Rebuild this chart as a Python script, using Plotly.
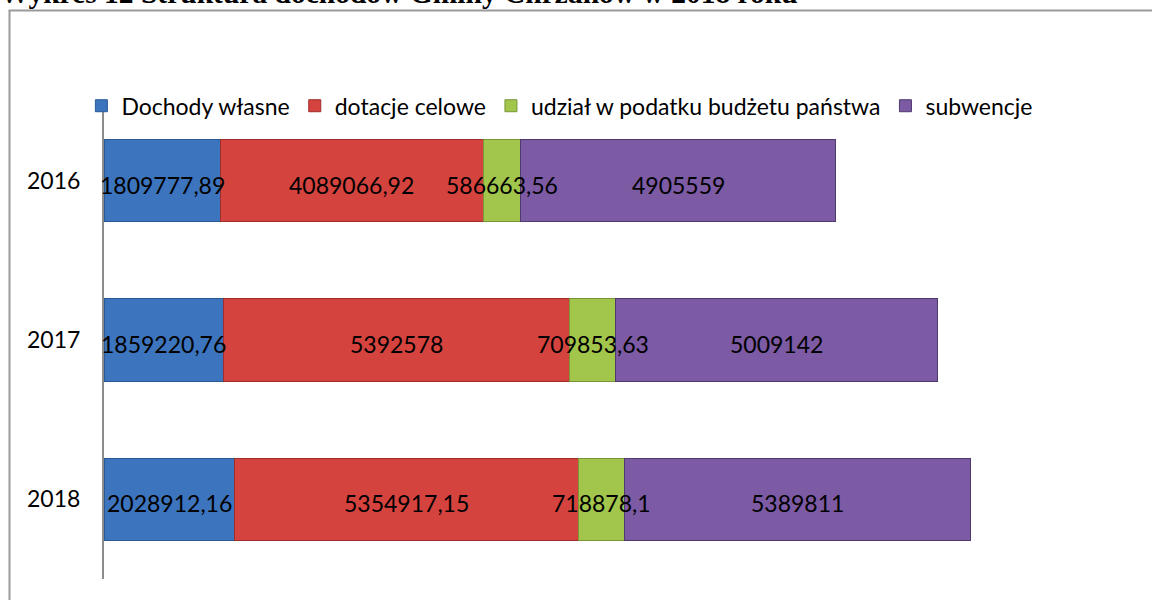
import plotly.graph_objects as go

years = ["2016", "2017", "2018"]
series_names = ["Dochody własne", "dotacje celowe", "udział w podatku budżetu państwa", "subwencje"]
dochody_wlasne = [1809777.89, 1859220.76, 2028912.16]
dotacje_celowe = [4089066.92, 5392578, 5354917.15]
udzial_pit = [586663.56, 709853.63, 718878.1]
subwencje = [4905559, 5009142, 5389811]
colors = ["#3c74bd", "#d5433f", "#a2c54b", "#7c5aa4"]
edge_colors = ["#2a5a96", "#9e2e2b", "#7a9635", "#4f3a6e"]

x_max = 16000000
title_text = "Wykres 12 Struktura dochodów Gminy Chrzanów w 2018 roku"


def fmt(v):
    return str(v).replace(".", ",")


all_series = [dochody_wlasne, dotacje_celowe, udzial_pit, subwencje]

fig = go.Figure()
for name, vals, col, ecol in zip(series_names, all_series, colors, edge_colors):
    fig.add_trace(go.Bar(
        y=years, x=vals, name=name, orientation="h",
        marker=dict(color=col, line=dict(color=ecol, width=1)),
        hoverinfo="skip",
    ))

# data labels drawn on top of all bars (centred in each segment);
# y given as the category index on the category axis
label_annotations = []
base = [0.0] * len(years)
for vals in all_series:
    for idx, (b, v) in enumerate(zip(base, vals)):
        label_annotations.append(dict(
            x=b + v / 2, y=idx, xref="x", yref="y", text=fmt(v), showarrow=False,
            xanchor="center", yanchor="middle", yshift=-4,
            font=dict(family="Lato", size=23, color="black")))
    base = [b + v for b, v in zip(base, vals)]

title_annotation = dict(text="<b>" + title_text + "</b>", xref="paper", yref="paper",
                        x=0, y=1, xanchor="left", yanchor="bottom", xshift=-106, yshift=90,
                        showarrow=False,
                        font=dict(family="Liberation Serif", size=29.5, color="black"))

fig.update_layout(
    width=1152, height=600,
    barmode="stack", bargap=0.485,
    margin=dict(l=104, r=20, t=101, b=21),
    paper_bgcolor="white", plot_bgcolor="white",
    font=dict(family="Lato", color="black"),
    showlegend=True,
    legend=dict(orientation="h", x=-0.022, xanchor="left", y=1.035, yanchor="top",
                font=dict(family="Lato", size=23, color="black"),
                bgcolor="rgba(0,0,0,0)", itemwidth=30, traceorder="normal"),
    xaxis=dict(range=[0, x_max], autorange=False, visible=False, showgrid=False, zeroline=False),
    yaxis=dict(type="category", categoryorder="array", categoryarray=years,
               range=[len(years) - 0.5, -0.5], autorange=False,
               showline=True, linecolor="#8c8c8c", linewidth=2,
               ticks="", ticklabelstandoff=17, showgrid=False,
               tickfont=dict(family="Lato", size=23, color="black")),
    annotations=label_annotations + [title_annotation],
    shapes=[
        dict(type="line", xref="paper", yref="paper", xsizemode="pixel", ysizemode="pixel",
             xanchor=0, yanchor=1, x0=-94.5, x1=-94.5, y0=90.5, y1=-520,
             line=dict(color="#9a9a9a", width=2)),
        dict(type="line", xref="paper", yref="paper", xsizemode="pixel", ysizemode="pixel",
             xanchor=0, yanchor=1, x0=-95.5, x1=1100, y0=90.5, y1=90.5,
             line=dict(color="#9a9a9a", width=2)),
    ],
)

fig.write_html("out.html", config={"displayModeBar": False},
               post_script="document.body.style.margin='0';")
